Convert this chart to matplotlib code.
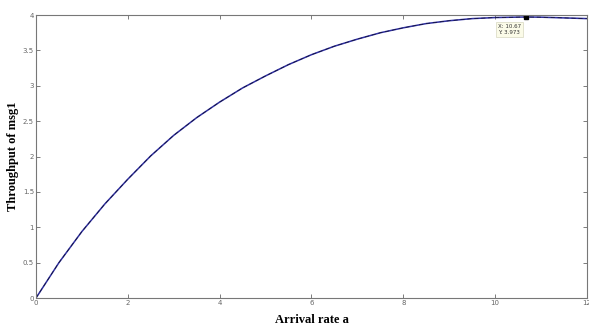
import matplotlib
matplotlib.use("Agg")
import matplotlib.pyplot as plt

# arrival rate vs throughput
arrival = [0, 0.5, 1, 1.5, 2, 2.5, 3, 3.5, 4, 4.5, 5, 5.5, 6, 6.5, 7, 7.5,
           8, 8.5, 9, 9.5, 10, 10.67, 11, 11.5, 12]
throughput = [0, 0.5, 0.94, 1.33, 1.68, 2.01, 2.30, 2.55, 2.77, 2.97, 3.14,
              3.30, 3.44, 3.56, 3.66, 3.75, 3.82, 3.88, 3.92, 3.95, 3.965,
              3.973, 3.97, 3.96, 3.95]
tip_x, tip_y = 10.67, 3.973

fig = plt.figure(figsize=(5.89, 3.29), dpi=100)
ax = fig.add_axes([0.0611, 0.0942, 0.9355, 0.860])

ax.plot(arrival, throughput, color='#2e2ea0', lw=1.1)
ax.plot(arrival, throughput, color='#101030', lw=0.5, ls=(0, (6, 4)))
ax.plot([tip_x], [tip_y], 's', color='black', ms=3.5)
ax.annotate(f"X: {tip_x:.2f}\nY: {tip_y:.3f}", (tip_x, tip_y),
            xytext=(-20, -5), textcoords='offset points', fontsize=4,
            color='#333333', va='top', ha='left', linespacing=1.3,
            bbox=dict(boxstyle='square,pad=0.3', fc='#fbfbe8', ec='#d8d8c0', lw=0.5))

ax.set_xlim(0, 12)
ax.set_ylim(0, 4)
ax.set_xticks([0, 2, 4, 6, 8, 10, 12])
ax.set_yticks([0, 0.5, 1, 1.5, 2, 2.5, 3, 3.5, 4])
ax.set_yticklabels(['0', '0.5', '1', '1.5', '2', '2.5', '3', '3.5', '4'])
ax.tick_params(direction='in', top=True, right=True, length=3, width=0.6,
               colors='#666666', labelsize=5, pad=1.5)
for s in ax.spines.values():
    s.set_color('#777777')
    s.set_linewidth(0.8)

ax.set_xlabel('Arrival rate a', family='Liberation Serif', fontweight='bold',
              fontsize=9, labelpad=6)
ax.set_ylabel('Throughput of msg1', family='Liberation Serif', fontweight='bold',
              fontsize=9, labelpad=3)

fig.savefig('out.png', dpi=100)
